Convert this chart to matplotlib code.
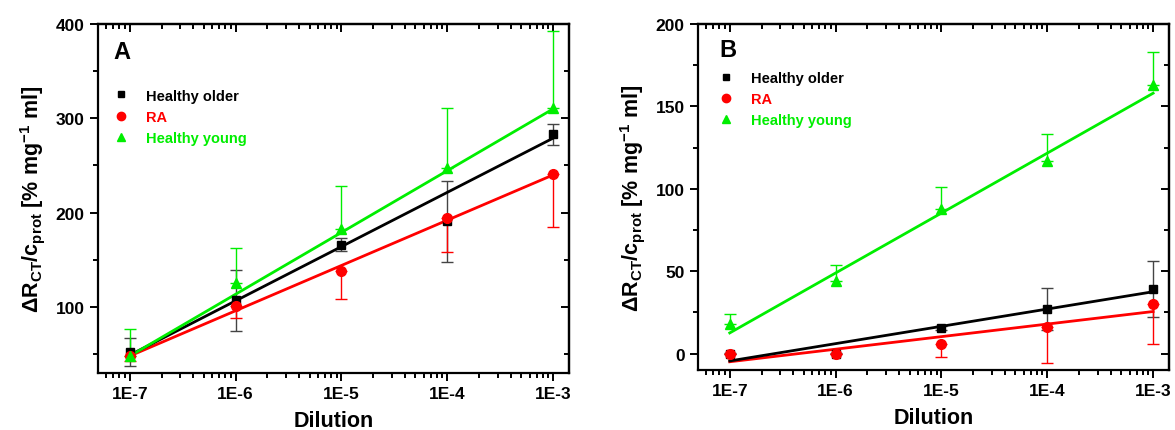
import numpy as np
import matplotlib
matplotlib.use("Agg")
import matplotlib.pyplot as plt
from matplotlib.lines import Line2D
from matplotlib.ticker import FixedLocator, FixedFormatter, LogLocator, MultipleLocator, NullFormatter

plt.rcParams['font.family'] = ['Liberation Sans', 'DejaVu Sans']
plt.rcParams['font.weight'] = 'bold'
plt.rcParams['mathtext.default'] = 'regular'

dilution = [1e-7, 1e-6, 1e-5, 1e-4, 1e-3]
tick_labels = ['1E-7', '1E-6', '1E-5', '1E-4', '1E-3']
series = ['Healthy older', 'RA', 'Healthy young']
colors = ['black', '#ff0000', '#00ee00']
markers = ['s', 'o', '^']

# panel A
older_A = [52, 107, 166, 191, 283]
older_A_err = [15, 32, 7, 43, 11]
ra_A = [48, 101, 138, 194, 241]
ra_A_err = [5, 13, 30, 36, 56]
young_A = [48, 125, 183, 247, 311]
young_A_err = [29, 38, 45, 64, 82]
fit_A = [(49, 279), (48, 240), (48, 310)]   # fit line values at 1E-7 and 1E-3

# panel B
older_B = [0, 0, 15.5, 27, 39]
older_B_err = [0.5, 0.5, 1, 13, 17]
ra_B = [0, 0, 6, 16, 30]
ra_B_err = [0.5, 0.5, 8, 22, 24]
young_B = [18, 44, 88, 117, 163]
young_B_err = [6, 10, 13, 16, 20]
fit_B = [(-4.5, 37.5), (-5, 25.5), (12.5, 158)]

fig = plt.figure(figsize=(11.75, 4.31), dpi=100)
axA = fig.add_axes([98/1175, 1-374/431, (569-98)/1175, (374-25)/431])
axB = fig.add_axes([698/1175, 1-371/431, (1169-698)/1175, (371-25)/431])


def panel(ax, vals, errs, fits, ylim, ymajor, yminor, letter, leg_xy):
    x = np.array(dilution)
    for i in range(3):
        v = np.array(vals[i])
        e = np.array(errs[i])
        if i == 0:
            yerr = [e, e]
        elif i == 1:
            yerr = [e, np.zeros_like(e)]
        else:
            yerr = [np.zeros_like(e), e]
        ecol = '#444444' if i == 0 else colors[i]
        ax.errorbar(x, v, yerr=yerr, fmt='none', ecolor=ecol, elinewidth=1.0,
                    capsize=4, capthick=1.0, zorder=2 + 0.1 * i)
        ax.plot(x, v, linestyle='none', marker=markers[i], color=colors[i],
                markersize=7 if i else 6, zorder=4)
    for i in [1, 0, 2]:
        ax.plot([dilution[0], dilution[-1]], fits[i], color=colors[i], lw=2, zorder=3)

    ax.set_xscale('log')
    ax.set_xlim(10**-7.3, 10**-2.85)
    ax.set_ylim(*ylim)
    ax.xaxis.set_major_locator(FixedLocator(dilution))
    ax.xaxis.set_major_formatter(FixedFormatter(tick_labels))
    ax.xaxis.set_minor_locator(LogLocator(base=10, subs=np.arange(2, 10)))
    ax.xaxis.set_minor_formatter(NullFormatter())
    ax.yaxis.set_major_locator(MultipleLocator(ymajor))
    ax.yaxis.set_minor_locator(MultipleLocator(yminor))

    for s in ax.spines.values():
        s.set_linewidth(1.6)
    ax.tick_params(which='both', direction='out', top=False, right=False,
                   labelsize=12.5, width=1.4)
    ax.tick_params(which='major', length=6)
    ax.tick_params(which='minor', length=3.5)
    # inward ticks on top and right
    sec_x = ax.secondary_xaxis('top')
    sec_x.set_xticks(dilution)
    sec_x.xaxis.set_minor_locator(LogLocator(base=10, subs=np.arange(2, 10)))
    sec_x.tick_params(which='both', direction='in', labeltop=False, width=1.4)
    sec_x.tick_params(which='major', length=6)
    sec_x.tick_params(which='minor', length=3.5)
    sec_x.set_xticklabels([])
    sec_x.spines['top'].set_linewidth(1.6)
    sec_y = ax.secondary_yaxis('right')
    sec_y.yaxis.set_major_locator(MultipleLocator(ymajor))
    sec_y.yaxis.set_minor_locator(MultipleLocator(yminor))
    sec_y.tick_params(which='both', direction='in', labelright=False, width=1.4)
    sec_y.tick_params(which='major', length=6)
    sec_y.tick_params(which='minor', length=3.5)
    sec_y.spines['right'].set_linewidth(1.6)

    ax.set_xlabel('Dilution', fontsize=15.5, fontweight='bold', labelpad=6)
    ax.set_ylabel('ΔR$_{CT}$/c$_{prot}$ [% mg$^{-1}$ ml]', fontsize=15.5,
                  fontweight='bold', labelpad=6)
    ax.text(letter[0], letter[1], letter[2], transform=ax.transAxes,
            fontsize=17, fontweight='bold', va='center', ha='left')

    handles = [Line2D([], [], linestyle='none', marker=markers[i], color=colors[i],
                      markersize=6 if i else 5) for i in range(3)]
    ax.legend(handles, series, loc='upper left', bbox_to_anchor=leg_xy,
              frameon=False, borderaxespad=0, borderpad=0, handlelength=1,
              handletextpad=1.2, labelspacing=0.5, labelcolor=colors,
              prop={'size': 10.5, 'weight': 'bold'})


panel(axA, [older_A, ra_A, young_A], [older_A_err, ra_A_err, young_A_err], fit_A,
      (30, 400), 100, 50, (0.033, 0.92, 'A'), (0.033, 0.815))
panel(axB, [older_B, ra_B, young_B], [older_B_err, ra_B_err, young_B_err], fit_B,
      (-10, 200), 50, 25, (0.045, 0.925, 'B'), (0.045, 0.865))

fig.savefig('out.png', dpi=100)
